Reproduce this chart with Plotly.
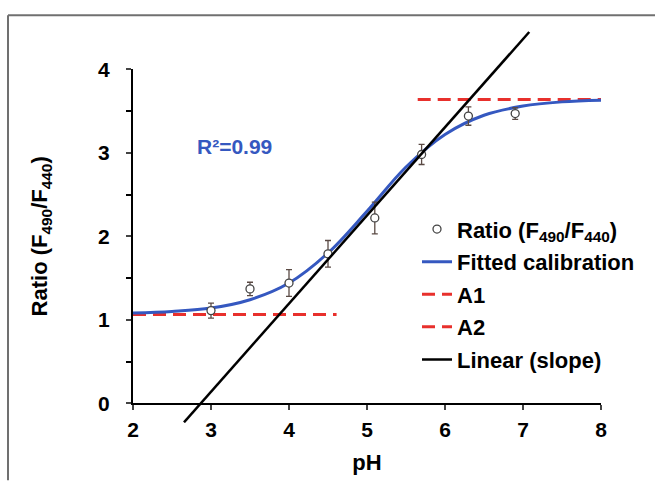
import plotly.graph_objects as go

# ---------------- data ----------------
ph_points = [3.0, 3.5, 4.0, 4.5, 5.1, 5.7, 6.3, 6.9]
ratio_points = [1.11, 1.37, 1.44, 1.79, 2.22, 2.98, 3.44, 3.47]
ratio_err = [0.09, 0.08, 0.16, 0.16, 0.19, 0.12, 0.11, 0.07]

fit_ph = [2.0, 2.5, 3.0, 3.5, 4.0, 4.5, 5.0, 5.5, 6.0, 6.5, 7.0, 7.5, 8.0]
fit_ratio = [1.08, 1.10, 1.14, 1.24, 1.44, 1.80, 2.30, 2.83, 3.22, 3.45, 3.56, 3.61, 3.63]

a1_ph = [2.0, 4.61]
a1_ratio = [1.063, 1.063]
a2_ph = [5.65, 8.0]
a2_ratio = [3.64, 3.64]

linear_ph = [2.654, 7.08]
linear_ratio = [-0.228, 4.447]

x_ticks = [2, 3, 4, 5, 6, 7, 8]
y_ticks = [0, 1, 2, 3, 4]
r2_text = "R²=0.99"

# ---------------- layout geometry (pixels) ----------------
W, H = 655, 483
PL, PR, PT, PB = 133, 601, 20, 425     # outer plot region
Y0PIX, Y4PIX = 405, 66                 # pixel rows of y=0 and y=4
XR = [2, 8]
YR = [0, 4]

ph_ = PB - PT
d0 = (PB - Y0PIX) / ph_
d1 = (PB - Y4PIX) / ph_
unit = (YR[1] - YR[0]) / (d1 - d0)
y2_range = [YR[0] - d0 * unit, YR[1] + (1 - d1) * unit]

FONT = "Liberation Sans, Arial, sans-serif"
BLUE = "#3558c0"
RED = "#e8302c"

fig = go.Figure()

fig.add_trace(go.Scatter(
    x=a1_ph, y=a1_ratio, mode="lines", name="A1",
    line=dict(color=RED, width=3, dash="13px,7px"),
    legendgroup="g3", legendrank=3))
fig.add_trace(go.Scatter(
    x=a2_ph, y=a2_ratio, mode="lines", name="A2",
    line=dict(color=RED, width=3, dash="13px,7px"),
    legendgroup="g4", legendrank=4))
fig.add_trace(go.Scatter(
    x=fit_ph, y=fit_ratio, mode="lines", name="Fitted calibration",
    line=dict(color=BLUE, width=3, shape="spline"),
    legendgroup="g2", legendrank=2))
fig.add_trace(go.Scatter(
    x=ph_points, y=ratio_points, mode="markers",
    name="Ratio (F<sub>490</sub>/F<sub>440</sub>)",
    marker=dict(symbol="circle", size=8, color="white",
                line=dict(color="#444444", width=1.3)),
    error_y=dict(type="data", array=ratio_err, visible=True,
                 color="#5a4a44", thickness=1.3, width=3),
    legendgroup="g1", legendrank=1))
fig.add_trace(go.Scatter(
    x=linear_ph, y=linear_ratio, mode="lines", name="Linear (slope)",
    line=dict(color="black", width=2.5),
    xaxis="x", yaxis="y2",
    legendgroup="g5", legendrank=5))

fig.add_annotation(
    x=3.3, y=3.07, xref="x", yref="y", text=r2_text, showarrow=False,
    font=dict(family=FONT, size=21, color=BLUE, weight="bold"))

# outer frame lines (left and top)
def px_to_paper_x(px):
    return (px - PL) / (PR - PL)

def px_to_paper_y(py):
    return (PB - py) / (PB - PT)

fig.add_shape(type="line", xref="paper", yref="paper",
              x0=px_to_paper_x(8), x1=px_to_paper_x(8),
              y0=px_to_paper_y(11), y1=px_to_paper_y(483),
              line=dict(color="#707070", width=2))
fig.add_shape(type="line", xref="paper", yref="paper",
              x0=px_to_paper_x(8), x1=px_to_paper_x(655),
              y0=px_to_paper_y(11), y1=px_to_paper_y(11),
              line=dict(color="#707070", width=2))

fig.update_layout(
    width=W, height=H,
    margin=dict(l=PL, r=W - PR, t=PT, b=H - PB, pad=0),
    paper_bgcolor="white",
    plot_bgcolor="rgba(0,0,0,0)",
    font=dict(family=FONT, color="black"),
    showlegend=True,
    legend=dict(
        x=px_to_paper_x(417), y=px_to_paper_y(207),
        xanchor="left", yanchor="top",
        bgcolor="rgba(0,0,0,0)",
        font=dict(family=FONT, size=22, color="black", weight="bold"),
        traceorder="grouped", tracegroupgap=1,
    ),
    xaxis=dict(
        range=XR, domain=[0, 1], anchor="y",
        tickvals=x_ticks, ticks="outside", ticklen=5, tickwidth=2,
        showline=True, linecolor="black", linewidth=2,
        showgrid=False, zeroline=False,
        ticklabelstandoff=2,
        tickfont=dict(family=FONT, size=21, weight="bold"),
        title=dict(text="pH", standoff=14,
                   font=dict(family=FONT, size=22, weight="bold")),
    ),
    yaxis=dict(
        range=YR, domain=[d0, d1], anchor="x",
        tickvals=y_ticks, ticks="outside", ticklen=5, tickwidth=2,
        minor=dict(dtick=0.5, ticks="outside", ticklen=5, tickwidth=2, tickcolor="black"),
        showline=True, linecolor="black", linewidth=2,
        showgrid=False, zeroline=False,
        ticklabelstandoff=12,
        tickfont=dict(family=FONT, size=21, weight="bold"),
        title=dict(text="Ratio (F<sub>490</sub>/F<sub>440</sub>)", standoff=44,
                   font=dict(family=FONT, size=22, weight="bold")),
    ),
    yaxis2=dict(
        range=y2_range, domain=[0, 1], anchor="x",
        visible=False, showgrid=False, zeroline=False,
    ),
)

fig.write_html("out.html")
